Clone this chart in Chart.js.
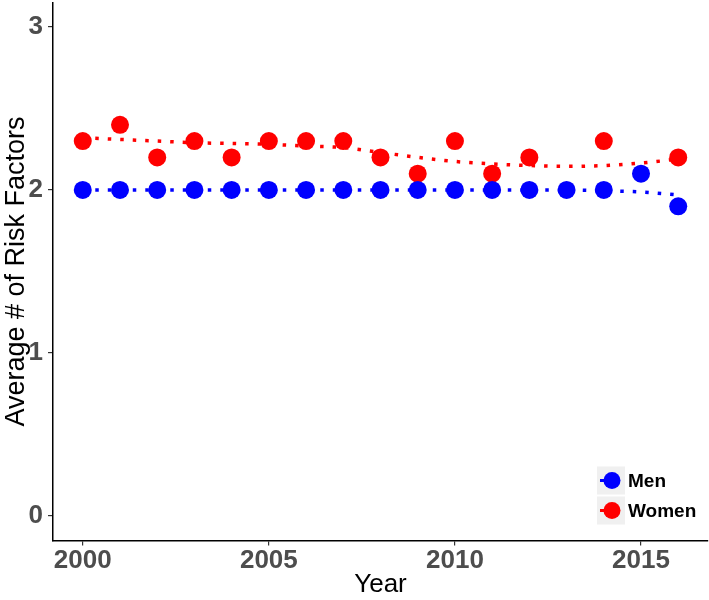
<!DOCTYPE html>
<html>
<head>
<meta charset="utf-8">
<script src="https://cdn.jsdelivr.net/npm/chart.js@4"></script>
<style>
  html, body { margin: 0; padding: 0; background: #fff; }
  #wrap { width: 709px; height: 600px; }
</style>
</head>
<body>
<div id="wrap"><canvas id="riskChart" width="709" height="600"></canvas></div>
<script>
// --- data ---
const years = [2000, 2001, 2002, 2003, 2004, 2005, 2006, 2007, 2008, 2009, 2010, 2011, 2012, 2013, 2014, 2015, 2016];
const menValues = [2.0, 2.0, 2.0, 2.0, 2.0, 2.0, 2.0, 2.0, 2.0, 2.0, 2.0, 2.0, 2.0, 2.0, 2.0, 2.1, 1.9];
const womenValues = [2.3, 2.4, 2.2, 2.3, 2.2, 2.3, 2.3, 2.3, 2.2, 2.1, 2.3, 2.1, 2.2, null, 2.3, null, 2.2];
// smoothed trend lines
const menTrend = [2.0, 2.0, 2.0, 2.0, 2.0, 2.0, 2.0, 2.0, 2.0, 2.0, 2.0, 2.0, 2.0, 2.0, 1.995, 1.988, 1.97];
const womenTrend = [2.32, 2.31, 2.30, 2.29, 2.285, 2.28, 2.27, 2.26, 2.23, 2.20, 2.175, 2.16, 2.15, 2.145, 2.15, 2.165, 2.19];
const seriesNames = ['Men', 'Women'];
const xTicks = [2000, 2005, 2010, 2015];
const yTicks = [0, 1, 2, 3];

const MEN_COLOR = '#0000ff';
const WOMEN_COLOR = '#ff0000';
const FONT = '"Liberation Sans", Arial, sans-serif';

const toPoints = (vals) => years.map((yr, i) => ({ x: yr, y: vals[i] })).filter(p => p.y !== null);

// ggplot-ish legend inside the plot, bottom right
const insideLegend = {
    id: 'insideLegend',
    afterDatasetsDraw(chart) {
        const { ctx, chartArea } = chart;
        const colors = [MEN_COLOR, WOMEN_COLOR];
        const keyLeft = chartArea.right - 111;
        const keyTop = chartArea.bottom - 74;
        ctx.save();
        seriesNames.forEach((name, i) => {
            const top = keyTop + i * 30;
            ctx.fillStyle = '#f0f0f0';
            ctx.fillRect(keyLeft, top, 28, 28);
            ctx.strokeStyle = colors[i];
            ctx.lineWidth = 3;
            ctx.beginPath();
            ctx.moveTo(keyLeft + 3, top + 14);
            ctx.lineTo(keyLeft + 14, top + 14);
            ctx.stroke();
            ctx.fillStyle = colors[i];
            ctx.beginPath();
            ctx.arc(keyLeft + 15, top + 14, 8.5, 0, Math.PI * 2);
            ctx.fill();
            ctx.fillStyle = '#000';
            ctx.font = 'bold 19px ' + FONT;
            ctx.textBaseline = 'middle';
            ctx.fillText(name, keyLeft + 31, top + 15);
        });
        ctx.restore();
    }
};

const trendStyle = {
    showLine: true,
    borderWidth: 3.5,
    borderDash: [3.5, 9],
    borderCapStyle: 'butt',
    pointRadius: 0,
    pointHoverRadius: 0,
    cubicInterpolationMode: 'monotone',
    fill: false
};

new Chart(document.getElementById('riskChart'), {
    type: 'scatter',
    data: {
        datasets: [
            { label: seriesNames[0], data: toPoints(menValues), backgroundColor: MEN_COLOR, borderColor: MEN_COLOR, pointRadius: 9, pointBorderWidth: 0 },
            { label: seriesNames[1], data: toPoints(womenValues), backgroundColor: WOMEN_COLOR, borderColor: WOMEN_COLOR, pointRadius: 9, pointBorderWidth: 0 },
            { label: 'men trend', data: toPoints(menTrend), borderColor: MEN_COLOR, ...trendStyle },
            { label: 'women trend', data: toPoints(womenTrend), borderColor: WOMEN_COLOR, ...trendStyle }
        ]
    },
    options: {
        responsive: false,
        animation: false,
        layout: { autoPadding: false, padding: { top: 2.5, right: 1, left: 0, bottom: 0 } },
        scales: {
            x: {
                type: 'linear',
                min: 1999.2, max: 2016.8,
                afterBuildTicks: (scale) => { scale.ticks = xTicks.map(v => ({ value: v })); },
                afterFit: (scale) => { scale.height = 59.5; scale.paddingLeft = 0; scale.paddingRight = 0; },
                grid: { drawOnChartArea: false, drawTicks: true, tickLength: 5, color: '#333', lineWidth: 1.2 },
                border: { color: '#000', width: 1.5 },
                ticks: { color: '#4d4d4d', font: { family: FONT, size: 26, weight: 'bold' }, padding: 0, callback: v => String(v) },
                title: { display: true, text: 'Year', color: '#000', font: { family: FONT, size: 26 }, padding: { top: -12, bottom: 0 } }
            },
            y: {
                min: -0.15, max: 3.15,
                afterBuildTicks: (scale) => { scale.ticks = yTicks.map(v => ({ value: v })); },
                afterFit: (scale) => { scale.width = 53; scale.paddingTop = 0; scale.paddingBottom = 0; },
                grid: { drawOnChartArea: false, drawTicks: true, tickLength: 5, color: '#333', lineWidth: 1.2 },
                border: { color: '#000', width: 1.5 },
                ticks: { color: '#4d4d4d', font: { family: FONT, size: 26, weight: 'bold' }, padding: 5, callback: v => String(v) },
                title: { display: true, text: 'Average # of Risk Factors', color: '#000', font: { family: FONT, size: 27 }, padding: { top: 0, bottom: 0 } }
            }
        },
        plugins: {
            legend: { display: false },
            tooltip: { enabled: false }
        }
    },
    plugins: [insideLegend]
});
</script>
</body>
</html>
